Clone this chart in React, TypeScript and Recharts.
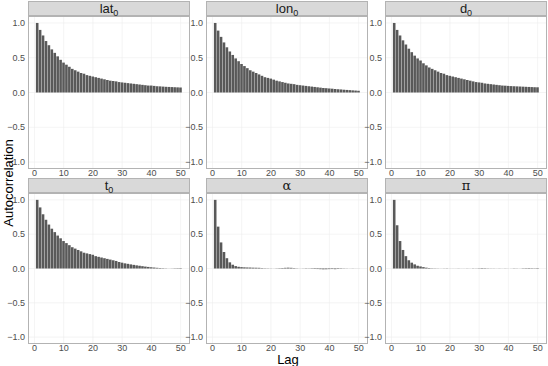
import React from "react";
import { BarChart, Bar, XAxis, YAxis, CartesianGrid } from "recharts";

const lags = [
  1, 2, 3, 4, 5, 6, 7, 8, 9, 10, 11, 12, 13, 14, 15, 16, 17, 18, 19, 20, 21, 22, 23, 24, 25,
  26, 27, 28, 29, 30, 31, 32, 33, 34, 35, 36, 37, 38, 39, 40, 41, 42, 43, 44, 45, 46, 47, 48, 49, 50,
];

const lat0 = [
  1.0, 0.9, 0.82, 0.74, 0.68, 0.62, 0.57, 0.52, 0.47, 0.43,
  0.4, 0.37, 0.34, 0.32, 0.3, 0.28, 0.27, 0.25, 0.24, 0.23,
  0.22, 0.21, 0.2, 0.19, 0.18, 0.17, 0.165, 0.16, 0.15, 0.145,
  0.14, 0.135, 0.13, 0.125, 0.12, 0.115, 0.11, 0.105, 0.1, 0.1,
  0.095, 0.09, 0.088, 0.085, 0.082, 0.08, 0.078, 0.076, 0.074, 0.072,
];

const lon0 = [
  1.0, 0.89, 0.8, 0.72, 0.65, 0.59, 0.54, 0.49, 0.45, 0.41,
  0.38, 0.35, 0.32, 0.3, 0.28, 0.26, 0.24, 0.22, 0.21, 0.2,
  0.185, 0.17, 0.16, 0.15, 0.14, 0.13, 0.125, 0.12, 0.11, 0.105,
  0.1, 0.095, 0.09, 0.085, 0.08, 0.075, 0.07, 0.065, 0.062, 0.058,
  0.055, 0.05, 0.047, 0.044, 0.04, 0.037, 0.034, 0.031, 0.028, 0.025,
];

const d0 = [
  1.0, 0.9, 0.82, 0.75, 0.69, 0.63, 0.58, 0.53, 0.49, 0.46,
  0.42, 0.39, 0.36, 0.34, 0.32, 0.3, 0.28, 0.27, 0.25, 0.24,
  0.23, 0.22, 0.21, 0.2, 0.19, 0.18, 0.17, 0.16, 0.15, 0.145,
  0.14, 0.13, 0.125, 0.12, 0.115, 0.11, 0.105, 0.1, 0.098, 0.095,
  0.092, 0.09, 0.088, 0.086, 0.084, 0.082, 0.08, 0.078, 0.076, 0.075,
];

const t0 = [
  1.0, 0.89, 0.79, 0.71, 0.64, 0.58, 0.53, 0.48, 0.44, 0.4,
  0.37, 0.34, 0.31, 0.29, 0.27, 0.25, 0.23, 0.22, 0.21, 0.2,
  0.18, 0.17, 0.16, 0.15, 0.14, 0.13, 0.12, 0.11, 0.095, 0.085,
  0.075, 0.068, 0.06, 0.053, 0.046, 0.04, 0.034, 0.028, 0.023, 0.018,
  0.014, 0.01, 0.007, 0.005, 0.003, 0.001, -0.002, -0.004, -0.005, -0.006,
];

const alpha = [
  1.0, 0.61, 0.38, 0.24, 0.15, 0.09, 0.055, 0.035, 0.025, 0.02,
  0.017, 0.015, 0.014, 0.012, 0.011, 0.01, 0.006, 0.004, 0.003, 0.002,
  0.001, 0.003, 0.005, 0.007, 0.01, 0.012, 0.01, 0.006, 0.003, 0.001,
  -0.002, -0.004, -0.003, -0.005, -0.007, -0.008, -0.01, -0.012, -0.011, -0.009,
  -0.008, -0.01, -0.007, -0.005, -0.003, -0.002, 0.001, 0.002, -0.001, 0.001,
];

const piVals = [
  1.0, 0.63, 0.4, 0.27, 0.18, 0.12, 0.085, 0.06, 0.04, 0.03,
  0.02, 0.012, 0.007, 0.004, 0.003, 0.002, 0.001, 0.002, 0.003, 0.001,
  -0.001, 0.001, 0.002, 0.001, -0.001, -0.002, 0.001, 0.003, 0.002, -0.004,
  -0.006, -0.005, -0.003, 0.002, -0.002, 0.001, 0.002, 0.001, -0.002, -0.001,
  0.001, 0.003, 0.002, 0.001, 0.004, 0.005, 0.006, 0.005, 0.004, 0.006,
];

const xTicks = [0, 10, 20, 30, 40, 50];
const yTicks = [-1, -0.5, 0, 0.5, 1];
const xGrid = [0, 5, 10, 15, 20, 25, 30, 35, 40, 45, 50];
const yGrid = [-1, -0.75, -0.5, -0.25, 0, 0.25, 0.5, 0.75, 1];

const Y_AXIS_W = 30;
const PANEL_W = 162;
const STRIP_H = 15;
const cols = [28, 206, 385];
const rows = [
  { strip: 1, top: 16, h: 153 },
  { strip: 178, top: 193, h: 151 },
];

const fmtY = (v: number) => (v < 0 ? "\u2212" + Math.abs(v).toFixed(1) : v.toFixed(1));

const sans = "'Liberation Sans', Arial, sans-serif";
const stripSans = { fontFamily: sans };
const stripSerif = { fontFamily: "'DejaVu Serif', 'Liberation Serif', serif" };
const subStyle = { fontSize: 9, verticalAlign: "-3px" };

const panels = [
  { label: <span style={stripSans}>lat<span style={subStyle}>0</span></span>, values: lat0 },
  { label: <span style={stripSans}>lon<span style={subStyle}>0</span></span>, values: lon0 },
  { label: <span style={stripSans}>d<span style={subStyle}>0</span></span>, values: d0 },
  { label: <span style={stripSans}>t<span style={subStyle}>0</span></span>, values: t0 },
  { label: <span style={stripSerif}>α</span>, values: alpha },
  { label: <span style={stripSerif}>π</span>, values: piVals },
];

const tickStyle = { fill: "#4d4d4d", fontSize: 9, fontFamily: sans };

function Panel({ idx }: { idx: number }) {
  const p = panels[idx];
  const left = cols[idx % 3];
  const row = rows[Math.floor(idx / 3)];
  const data = lags.map((lag, i) => ({ lag, acf: p.values[i] }));
  return (
    <>
      <div
        style={{
          position: "absolute",
          left,
          top: row.strip,
          width: PANEL_W,
          height: STRIP_H,
          boxSizing: "border-box",
          background: "#d9d9d9",
          border: "1px solid #b3b3b3",
          color: "#1a1a1a",
          fontSize: 13,
          lineHeight: "13px",
          textAlign: "center",
        }}
      >
        {p.label}
      </div>
      <div style={{ position: "absolute", left: left - Y_AXIS_W, top: row.top }}>
        <BarChart
          width={PANEL_W + Y_AXIS_W}
          height={row.h + 12}
          data={data}
          margin={{ top: 0, right: 0, bottom: 0, left: 0 }}
          barSize={2.6}
        >
          <CartesianGrid
            stroke="#ececec"
            strokeWidth={0.6}
            horizontalValues={yGrid}
            verticalValues={xGrid}
          />
          <XAxis
            dataKey="lag"
            type="number"
            domain={[-2.2, 53.2]}
            ticks={xTicks}
            allowDataOverflow
            axisLine={false}
            tickLine={false}
            tickSize={1}
            tickMargin={0}
            height={12}
            tick={tickStyle}
          />
          <YAxis
            type="number"
            domain={[-1.1, 1.1]}
            ticks={yTicks}
            allowDataOverflow
            axisLine={false}
            tickLine={false}
            tickSize={1}
            tickMargin={2}
            width={Y_AXIS_W}
            tickFormatter={fmtY}
            tick={tickStyle}
          />
          <Bar dataKey="acf" fill="#595959" isAnimationActive={false} />
        </BarChart>
      </div>
      <div
        style={{
          position: "absolute",
          left,
          top: row.top,
          width: PANEL_W,
          height: row.h,
          boxSizing: "border-box",
          border: "1px solid #b3b3b3",
          pointerEvents: "none",
        }}
      />
    </>
  );
}

export default function App() {
  return (
    <div
      style={{
        position: "absolute",
        left: 0,
        top: 0,
        width: 548,
        height: 366,
        background: "#fff",
        overflow: "hidden",
        fontFamily: sans,
      }}
    >
      {panels.map((_, i) => (
        <Panel key={i} idx={i} />
      ))}
      <div
        style={{
          position: "absolute",
          left: 0,
          top: 354,
          width: 548,
          paddingLeft: 28,
          boxSizing: "border-box",
          textAlign: "center",
          fontSize: 13,
          lineHeight: "12px",
          color: "#000",
        }}
      >
        Lag
      </div>
      <div
        style={{
          position: "absolute",
          left: 8,
          top: 183,
          transform: "translate(-50%, -50%) rotate(-90deg)",
          fontSize: 13,
          whiteSpace: "nowrap",
          color: "#000",
        }}
      >
        Autocorrelation
      </div>
    </div>
  );
}
